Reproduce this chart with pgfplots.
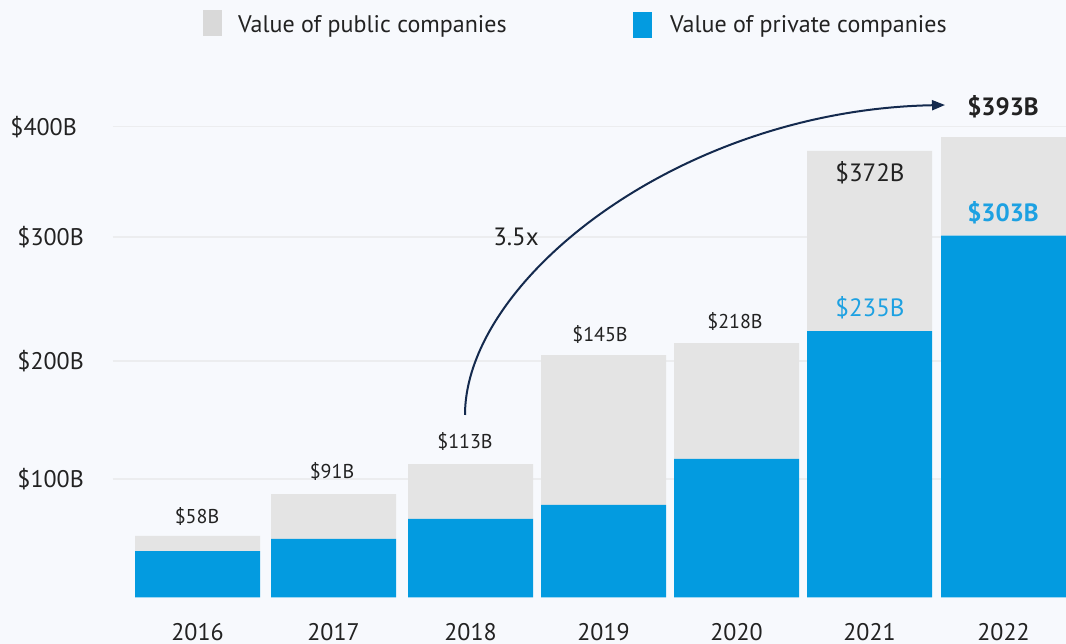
\documentclass[border=0pt]{standalone}
\usepackage{fontspec}
\setmainfont{PT Sans}
\usepackage{pgfplots}
\usepackage{pgfplotstable}
\pgfplotsset{compat=1.18}
\usetikzlibrary{arrows.meta}
\definecolor{bg}{HTML}{F7F9FD}
\definecolor{pub}{HTML}{E4E4E4}
\definecolor{priv}{HTML}{039BE0}
\definecolor{gridc}{HTML}{ECEDEF}
\definecolor{txt}{HTML}{222222}
\definecolor{lblblue}{HTML}{1DA1E2}
\definecolor{navy}{HTML}{142A4E}
\definecolor{legpub}{HTML}{D9D9D9}
\pgfplotstableread{
x private public
197.5 39.5 12.8
333.5 49.7 38.2
470.5 66.7 46.7
603.5 78.6 127.4
736.5 117.7 98.5
869.5 226.4 153.0
1003.5 307.4 83.8
}\datatable
\begin{document}
\begin{tikzpicture}
\fill[bg] (0,0) rectangle (1066pt,644pt);
\begin{axis}[
  at={(113pt,46.5pt)}, anchor=south west,
  scale only axis, width=953pt, height=470.8pt,
  xmin=113, xmax=1066, ymin=0, ymax=400,
  axis line style={draw=none}, tick style={draw=none},
  ymajorgrids, grid style={color=gridc, line width=1.6pt},
  ybar stacked, bar width=125,
  clip=false,
  xtick={197.5,333.5,470.5,603.5,736.5,869.5,1003.5},
  xticklabels={2016,2017,2018,2019,2020,2021,2022},
  xticklabel style={anchor=base, inner sep=0pt, yshift=-43.2pt, font=\fontsize{24}{28}\selectfont, text=txt},
  ytick={100.7,200.9,306.5,400},
  yticklabels={\$100B,\$200B,\$300B,\$400B\kern7pt},
  yticklabel style={anchor=base east, inner sep=0pt, xshift=-29pt, yshift=-8.5pt, font=\fontsize{24}{28}\selectfont, text=txt},
]
\addplot[fill=priv, draw=none] table[x=x,y=private]{\datatable};
\addplot[fill=pub, draw=none] table[x=x,y=public]{\datatable};
\end{axis}
% legend
\fill[legpub] (203pt,634pt) rectangle (222pt,608pt);
\node[anchor=base west, inner sep=0pt, text=txt, font=\fontsize{24}{28}\selectfont] at (238pt,611pt) {Value of public companies};
\fill[priv] (633pt,632pt) rectangle (652pt,606pt);
\node[anchor=base west, inner sep=0pt, text=txt, font=\fontsize{24}{28}\selectfont] at (670pt,611pt) {Value of private companies};
% bar labels
\begin{scope}[every node/.style={anchor=base, inner sep=0pt, text=txt, font=\fontsize{20}{24}\selectfont}]
\node at (197pt,120pt) {\$58B};
\node at (332pt,165pt) {\$91B};
\node at (465pt,195pt) {\$113B};
\node at (600pt,302pt) {\$145B};
\node at (735pt,315pt) {\$218B};
\end{scope}
\begin{scope}[every node/.style={anchor=base, inner sep=0pt, font=\fontsize{25}{30}\selectfont}]
\node[text=txt] at (870pt,462pt) {\$372B};
\node[text=lblblue] at (870pt,327pt) {\$235B};
\node[text=lblblue, font=\fontsize{25}{30}\selectfont\bfseries] at (1003pt,422pt) {\$303B};
\node[text=txt, font=\fontsize{25}{30}\selectfont\bfseries] at (1003pt,528pt) {\$393B};
\node[text=txt] at (516pt,398pt) {3.5x};
\end{scope}
\draw[navy, line width=2pt, -{Triangle[length=13pt,width=10pt]}] (465pt,229pt) .. controls (465pt,364pt) and (680pt,534pt) .. (945pt,539pt);
\pgfresetboundingbox
\path[use as bounding box] (0,0) rectangle (1066pt,644pt);
\end{tikzpicture}
\end{document}
